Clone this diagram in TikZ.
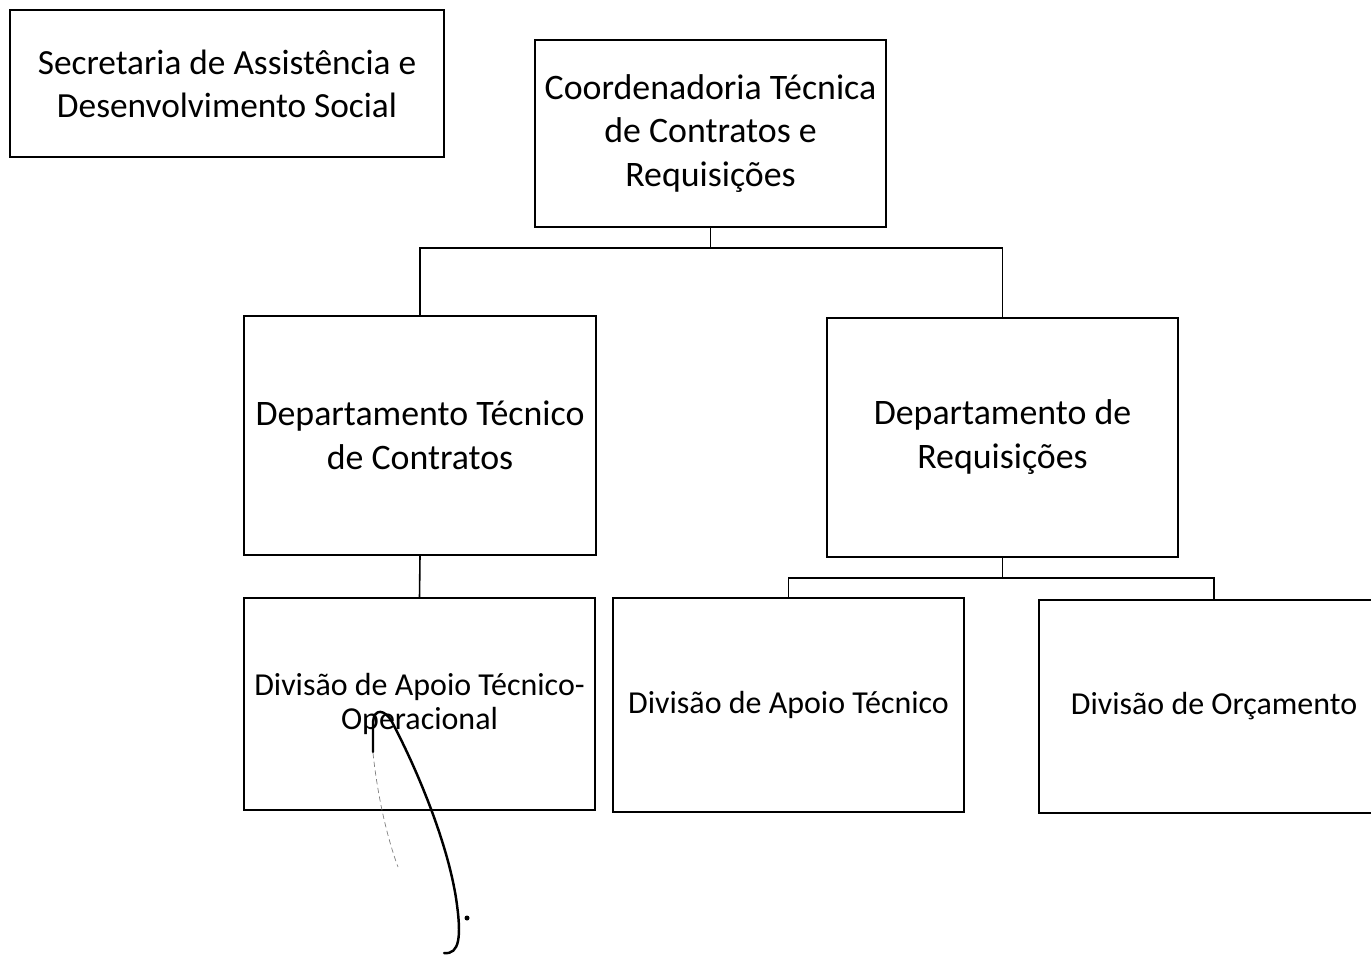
\documentclass[tikz,border=0pt]{standalone}
\usepackage{fontspec}
\setmainfont{Carlito}
\usetikzlibrary{positioning}

\begin{document}
\begin{tikzpicture}[x=0.02cm, y=-0.02cm, line width=0.9pt,
    orgbox/.style={draw, align=center, inner sep=0pt, minimum width=7.02cm, font=\fontsize{20.4}{25}\selectfont},
    divbox/.style={orgbox, font=\fontsize{18.2}{19.5}\selectfont}]
  \useasboundingbox (0,0) rectangle (1371,963);
  \node[orgbox, minimum width=8.68cm, minimum height=2.94cm, font=\fontsize{20.1}{24.5}\selectfont] (sec) at (227,83.5) {Secretaria de Assistência e\\Desenvolvimento Social};
  \node[orgbox, minimum height=3.74cm] (coord) at (710.5,133.5) {Coordenadoria Técnica\\de Contratos e\\Requisições};
  \node[orgbox, minimum width=7.04cm, minimum height=4.78cm] (deptC) at (420,435.5) {Departamento Técnico\\de Contratos};
  \node[orgbox, minimum height=4.78cm] (deptR) at (1002.5,437.5) {Departamento de\\Requisições};
  \node[divbox, minimum height=4.24cm] (divOp) at (419.5,704) {Divisão de Apoio Técnico-\\Operacional};
  \node[divbox, minimum height=4.28cm] (divAp) at (788.5,705) {Divisão de Apoio Técnico};
  \node[divbox, minimum width=7.0cm, minimum height=4.26cm] (divOr) at (1214,706.5) {Divisão de Orçamento};
  % ligacoes
  \draw (coord.south) -- ++(0,20) -| (deptC.north);
  \draw (coord.south) -- ++(0,20) -| (deptR.north);
  \draw (deptC.south) -- (divOp.north);
  \draw (deptR.south) -- ++(0,20) -| (divAp.north);
  \draw (deptR.south) -- ++(0,20) -| (divOr.north);
  % rubrica
  \draw[line width=1.4pt, line cap=round, line join=round] (373,752) -- (373,722) .. controls (374,708) and (385,709) .. (392,722) .. controls (420,775) and (450,850) .. (457,905) .. controls (461,935) and (460,955) .. (444,953);
  \fill (467,918) circle (2.5);
  \draw[gray, line width=0.4pt, dash pattern=on 3pt off 2pt] (373,753) .. controls (378,800) and (388,840) .. (398,867);
\end{tikzpicture}
\end{document}
